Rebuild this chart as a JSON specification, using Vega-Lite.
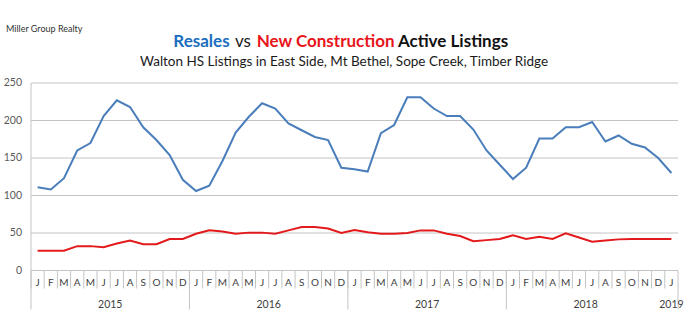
{
  "$schema": "https://vega.github.io/schema/vega-lite/v6.json",
  "width": 647,
  "height": 195,
  "autosize": {"type": "none"},
  "padding": {"left": 31, "top": 75.5, "right": 11, "bottom": 54.5},
  "background": "white",
  "config": {"view": {"stroke": null}, "font": "Lato"},
  "datasets": {
    "listings": [
      {"month": "2015-01", "m": "J", "Resales": 111, "New Construction": 26.5},
      {"month": "2015-02", "m": "F", "Resales": 108, "New Construction": 26.5},
      {"month": "2015-03", "m": "M", "Resales": 123, "New Construction": 26.5},
      {"month": "2015-04", "m": "A", "Resales": 160, "New Construction": 32.5},
      {"month": "2015-05", "m": "M", "Resales": 170, "New Construction": 32.5},
      {"month": "2015-06", "m": "J", "Resales": 206, "New Construction": 31},
      {"month": "2015-07", "m": "J", "Resales": 227, "New Construction": 36},
      {"month": "2015-08", "m": "A", "Resales": 218, "New Construction": 40},
      {"month": "2015-09", "m": "S", "Resales": 191, "New Construction": 35},
      {"month": "2015-10", "m": "O", "Resales": 174, "New Construction": 35},
      {"month": "2015-11", "m": "N", "Resales": 154, "New Construction": 42},
      {"month": "2015-12", "m": "D", "Resales": 121, "New Construction": 42},
      {"month": "2016-01", "m": "J", "Resales": 106, "New Construction": 49},
      {"month": "2016-02", "m": "F", "Resales": 113, "New Construction": 53.5},
      {"month": "2016-03", "m": "M", "Resales": 146, "New Construction": 52},
      {"month": "2016-04", "m": "A", "Resales": 184, "New Construction": 49},
      {"month": "2016-05", "m": "M", "Resales": 205, "New Construction": 50.5},
      {"month": "2016-06", "m": "J", "Resales": 223, "New Construction": 50.5},
      {"month": "2016-07", "m": "J", "Resales": 216, "New Construction": 49},
      {"month": "2016-08", "m": "A", "Resales": 196, "New Construction": 53.5},
      {"month": "2016-09", "m": "S", "Resales": 187, "New Construction": 58},
      {"month": "2016-10", "m": "O", "Resales": 178, "New Construction": 58},
      {"month": "2016-11", "m": "N", "Resales": 174, "New Construction": 56},
      {"month": "2016-12", "m": "D", "Resales": 137, "New Construction": 50},
      {"month": "2017-01", "m": "J", "Resales": 135, "New Construction": 54},
      {"month": "2017-02", "m": "F", "Resales": 132, "New Construction": 51},
      {"month": "2017-03", "m": "M", "Resales": 183, "New Construction": 49},
      {"month": "2017-04", "m": "A", "Resales": 194, "New Construction": 49},
      {"month": "2017-05", "m": "M", "Resales": 231, "New Construction": 50},
      {"month": "2017-06", "m": "J", "Resales": 231, "New Construction": 53.5},
      {"month": "2017-07", "m": "J", "Resales": 216, "New Construction": 53.5},
      {"month": "2017-08", "m": "A", "Resales": 206, "New Construction": 49},
      {"month": "2017-09", "m": "S", "Resales": 206, "New Construction": 46},
      {"month": "2017-10", "m": "O", "Resales": 188, "New Construction": 39},
      {"month": "2017-11", "m": "N", "Resales": 160, "New Construction": 40.5},
      {"month": "2017-12", "m": "D", "Resales": 141, "New Construction": 42},
      {"month": "2018-01", "m": "J", "Resales": 122, "New Construction": 47},
      {"month": "2018-02", "m": "F", "Resales": 137, "New Construction": 42},
      {"month": "2018-03", "m": "M", "Resales": 176, "New Construction": 45},
      {"month": "2018-04", "m": "A", "Resales": 176, "New Construction": 42},
      {"month": "2018-05", "m": "M", "Resales": 191, "New Construction": 49.5},
      {"month": "2018-06", "m": "J", "Resales": 191, "New Construction": 44},
      {"month": "2018-07", "m": "J", "Resales": 198, "New Construction": 38.5},
      {"month": "2018-08", "m": "A", "Resales": 172, "New Construction": 40},
      {"month": "2018-09", "m": "S", "Resales": 180, "New Construction": 41.5},
      {"month": "2018-10", "m": "O", "Resales": 169, "New Construction": 42},
      {"month": "2018-11", "m": "N", "Resales": 164, "New Construction": 42},
      {"month": "2018-12", "m": "D", "Resales": 150, "New Construction": 42},
      {"month": "2019-01", "m": "J", "Resales": 130, "New Construction": 42}
    ],
    "grid": [{"v": 0}, {"v": 50}, {"v": 100}, {"v": 150}, {"v": 200}, {"v": 250}],
    "seps": [{"month": "2015-01"}, {"month": "2016-01"}, {"month": "2017-01"}, {"month": "2018-01"}],
    "sepEnd": [{"month": "2019-01"}],
    "years": [
      {"month": "2015-07", "year": "2015"},
      {"month": "2016-07", "year": "2016"},
      {"month": "2017-07", "year": "2017"},
      {"month": "2018-07", "year": "2018"}
    ],
    "yearEnd": [{"month": "2019-01", "year": "2019"}],
    "one": [{"k": 1}]
  },
  "layer": [
    {
      "data": {"name": "grid"},
      "mark": {"type": "rule", "color": "#c4c4c4", "strokeWidth": 1},
      "encoding": {
        "y": {"field": "v", "type": "quantitative", "scale": {"domain": [0, 250]}, "axis": null}
      }
    },
    {
      "data": {"name": "one"},
      "mark": {"type": "rule", "color": "#c4c4c4", "strokeWidth": 1},
      "encoding": {
        "x": {"datum": "2015-01", "type": "ordinal", "bandPosition": 0, "axis": null},
        "y": {"datum": 0, "type": "quantitative", "axis": null},
        "y2": {"datum": 250}
      }
    },
    {
      "data": {"name": "listings"},
      "mark": {"type": "rule", "color": "#c4c4c4", "strokeWidth": 1},
      "encoding": {
        "x": {"field": "month", "type": "ordinal", "bandPosition": 0, "axis": null},
        "y": {"datum": 0, "type": "quantitative", "axis": null},
        "y2": {"datum": -24}
      }
    },
    {
      "data": {"name": "seps"},
      "mark": {"type": "rule", "color": "#c4c4c4", "strokeWidth": 1},
      "encoding": {
        "x": {"field": "month", "type": "ordinal", "bandPosition": 0, "axis": null},
        "y": {"datum": 0, "type": "quantitative", "axis": null},
        "y2": {"datum": -52}
      }
    },
    {
      "data": {"name": "sepEnd"},
      "mark": {"type": "rule", "color": "#c4c4c4", "strokeWidth": 1},
      "encoding": {
        "x": {"field": "month", "type": "ordinal", "bandPosition": 1, "axis": null},
        "y": {"datum": 0, "type": "quantitative", "axis": null},
        "y2": {"datum": -52}
      }
    },
    {
      "data": {"name": "listings"},
      "transform": [{"fold": ["Resales", "New Construction"], "as": ["series", "value"]}],
      "mark": {"type": "line", "strokeWidth": 2},
      "encoding": {
        "x": {
          "field": "month", "type": "ordinal", "bandPosition": 0.5,
          "scale": {"type": "band", "paddingInner": 0, "paddingOuter": 0},
          "axis": null
        },
        "y": {"field": "value", "type": "quantitative", "scale": {"domain": [0, 250]}, "axis": null},
        "color": {
          "field": "series", "type": "nominal",
          "scale": {"domain": ["Resales", "New Construction"], "range": ["#4a7ebb", "#e31a1c"]},
          "legend": null
        }
      }
    },
    {
      "data": {"name": "grid"},
      "mark": {"type": "text", "align": "right", "baseline": "middle", "dx": -9, "fontSize": 10.5, "color": "#595959"},
      "encoding": {
        "x": {"datum": "2015-01", "type": "ordinal", "bandPosition": 0, "axis": null},
        "y": {"field": "v", "type": "quantitative", "axis": null},
        "text": {"field": "v", "type": "quantitative"}
      }
    },
    {
      "data": {"name": "listings"},
      "mark": {"type": "text", "align": "center", "baseline": "middle", "dy": 12.5, "fontSize": 10, "color": "#404040"},
      "encoding": {
        "x": {"field": "month", "type": "ordinal", "bandPosition": 0.5, "axis": null},
        "y": {"datum": 0, "type": "quantitative", "axis": null},
        "text": {"field": "m"}
      }
    },
    {
      "data": {"name": "years"},
      "mark": {"type": "text", "dy": 34, "baseline": "middle", "align": "center", "fontSize": 10.5, "color": "#404040"},
      "encoding": {
        "x": {"field": "month", "type": "ordinal", "bandPosition": 0, "axis": null},
        "y": {"datum": 0, "type": "quantitative", "axis": null},
        "text": {"field": "year"}
      }
    },
    {
      "data": {"name": "yearEnd"},
      "mark": {"type": "text", "dy": 34, "baseline": "middle", "align": "center", "fontSize": 10.5, "color": "#404040"},
      "encoding": {
        "x": {"field": "month", "type": "ordinal", "bandPosition": 0.5, "axis": null},
        "y": {"datum": 0, "type": "quantitative", "axis": null},
        "text": {"field": "year"}
      }
    },
    {
      "data": {"name": "one"},
      "mark": {"type": "text", "text": "Resales", "align": "left", "baseline": "alphabetic", "fontSize": 17, "fontWeight": "bold", "color": "#1b6fbe", "dx": -174.6, "dy": -36.2},
      "encoding": {
        "x": {"datum": "2017-01", "type": "ordinal", "bandPosition": 0, "axis": null},
        "y": {"datum": 250, "type": "quantitative", "axis": null}
      }
    },
    {
      "data": {"name": "one"},
      "mark": {"type": "text", "text": "vs", "align": "left", "baseline": "alphabetic", "fontSize": 17, "color": "#1a1a1a", "dx": -112.9, "dy": -36.2},
      "encoding": {
        "x": {"datum": "2017-01", "type": "ordinal", "bandPosition": 0, "axis": null},
        "y": {"datum": 250, "type": "quantitative", "axis": null}
      }
    },
    {
      "data": {"name": "one"},
      "mark": {"type": "text", "text": "New Construction", "align": "left", "baseline": "alphabetic", "fontSize": 17, "fontWeight": "bold", "color": "#e8141b", "dx": -91.2, "dy": -36.2},
      "encoding": {
        "x": {"datum": "2017-01", "type": "ordinal", "bandPosition": 0, "axis": null},
        "y": {"datum": 250, "type": "quantitative", "axis": null}
      }
    },
    {
      "data": {"name": "one"},
      "mark": {"type": "text", "text": "Active Listings", "align": "left", "baseline": "alphabetic", "fontSize": 17, "fontWeight": "bold", "color": "#111111", "dx": 50, "dy": -36.2},
      "encoding": {
        "x": {"datum": "2017-01", "type": "ordinal", "bandPosition": 0, "axis": null},
        "y": {"datum": 250, "type": "quantitative", "axis": null}
      }
    },
    {
      "data": {"name": "one"},
      "mark": {"type": "text", "text": "Walton HS Listings in East Side, Mt Bethel, Sope Creek, Timber Ridge", "align": "center", "baseline": "alphabetic", "fontSize": 13.5, "color": "#1a1a1a", "dx": -3.9, "dy": -17.2},
      "encoding": {
        "x": {"datum": "2017-01", "type": "ordinal", "bandPosition": 0, "axis": null},
        "y": {"datum": 250, "type": "quantitative", "axis": null}
      }
    },
    {
      "data": {"name": "one"},
      "mark": {"type": "text", "text": "Miller Group Realty", "align": "left", "baseline": "alphabetic", "fontSize": 9, "color": "#333333", "dx": -341.9, "dy": -51},
      "encoding": {
        "x": {"datum": "2017-01", "type": "ordinal", "bandPosition": 0, "axis": null},
        "y": {"datum": 250, "type": "quantitative", "axis": null}
      }
    }
  ]
}
